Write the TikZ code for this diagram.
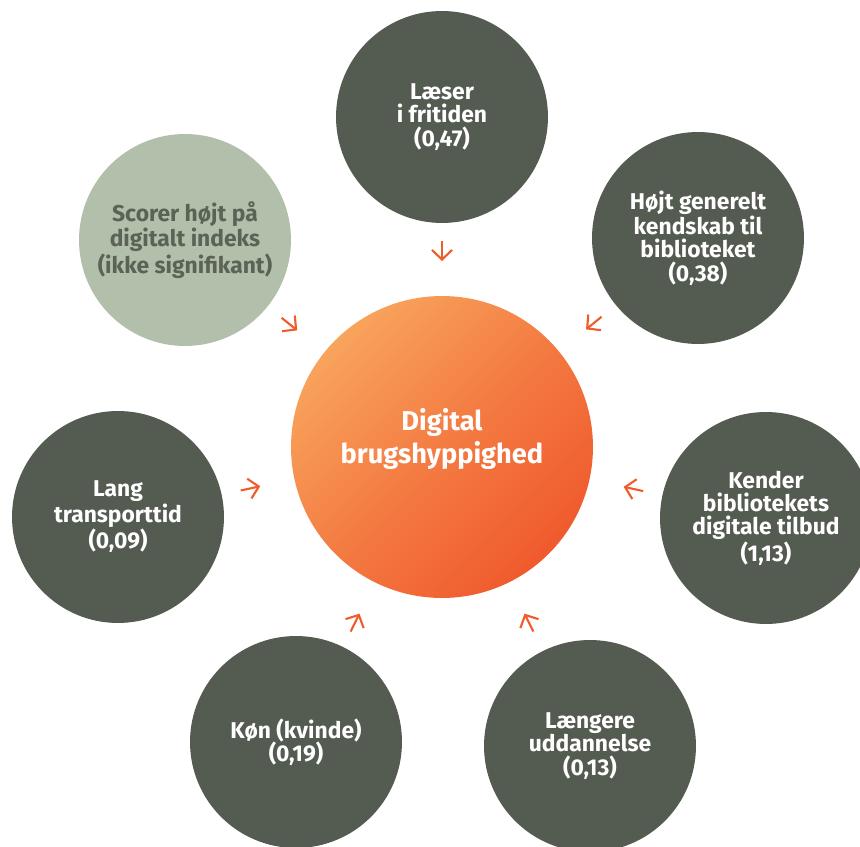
\documentclass[tikz,border=0pt]{standalone}
\usepackage{fontspec}
\setmainfont{Fira Sans}
\usetikzlibrary{arrows.meta,calc}
\definecolor{NodeClr}{HTML}{545B50}
\definecolor{SageClr}{HTML}{B2BFAA}
\definecolor{SageTxt}{HTML}{5A6356}
\definecolor{HubLight}{HTML}{F8A45C}
\definecolor{HubDark}{HTML}{F05A2D}
\definecolor{ArrowClr}{HTML}{F15A2B}

\begin{document}
\begin{tikzpicture}[x=0.02cm,y=-0.02cm,
  factor/.style={circle,fill=NodeClr,text=white,minimum size=4.24cm,inner sep=0pt,
    align=center,font=\bfseries\fontsize{13}{13.3}\selectfont},
  hub/.style={circle,minimum size=6.04cm,inner sep=0pt,
    top color=HubLight,bottom color=HubDark,middle color=HubDark!55!HubLight,shading angle=45},
  hubtxt/.style={text=white,align=center,yshift=4.5pt,font=\bfseries\fontsize{15.5}{18.7}\selectfont},
  arr/.style={line width=1.2pt,color=ArrowClr,-{Straight Barb[length=5.5pt,width=11.5pt]}}]
\useasboundingbox (0,0) rectangle (860,847);

\node[hub,label={[hubtxt]center:Digital\\brugshyppighed}] (hub) at (442,447) {};

\node[factor] (read) at (442,117) {Læser\\i fritiden\\(0,47)};
\node[factor] (know) at (698,238) {Højt generelt\\kendskab til\\biblioteket\\(0,38)};
\node[factor] (digi) at (766,518) {Kender\\bibliotekets\\digitale tilbud\\(1,13)};
\node[factor] (edu) at (590,746) {Længere\\uddannelse\\(0,13)};
\node[factor] (sex) at (296,742) {Køn (kvinde)\\(0,19)};
\node[factor] (trans) at (118,517) {Lang\\transporttid\\(0,09)};
\node[factor,fill=SageClr,text=SageTxt] (index) at (185,240) {Scorer højt på\\digitalt indeks\\(ikke signifikant)};

\foreach \n in {read,know,digi,edu,sex,trans,index}
  \draw[arr] ($(hub)!4.12cm!(\n)$) -- ($(hub)!3.72cm!(\n)$);

\end{tikzpicture}
\end{document}
